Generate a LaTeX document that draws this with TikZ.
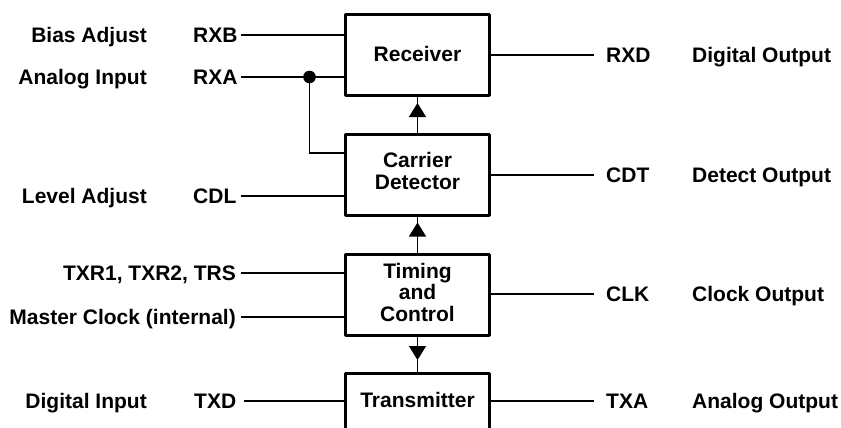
\documentclass[tikz,border=0pt]{standalone}
\usepackage{fontspec}
\setmainfont{Liberation Sans}
\usetikzlibrary{arrows.meta}
\begin{document}
\begin{tikzpicture}[x=1pt,y=-1pt,
  lbl/.style={font=\fontsize{21}{21.5}\selectfont\bfseries, inner sep=0pt, text height=15pt, text depth=0pt},
  blk/.style={lbl, draw, line width=3pt, line join=round, minimum width=144pt, minimum height=81pt, align=center},
  wire/.style={line width=1.1pt},
  arr/.style={wire, -{Triangle[length=14pt,width=17pt]}}]
\useasboundingbox (0,0) rectangle (841,428);
\clip (0,0) rectangle (841,428);

% blocks
\node[blk, text depth=2pt]  (rec) at (417.5,55)  {Receiver};
\node[blk, text height=36.5pt, text depth=8.5pt] (car) at (417.5,175) {Carrier\\Detector};
\node[blk, text height=58pt, text depth=6pt] (tim) at (417.5,295) {Timing\\and\\Control};
\node[blk, text depth=28pt] (tx)  at (417.5,414) {Transmitter};

% free wire ends
\coordinate (iRXB) at (241,35);
\coordinate (iRXA) at (241,77);
\coordinate (iCDL) at (241,196);
\coordinate (iTXR) at (241,273);
\coordinate (iMCK) at (241,317);
\coordinate (iTXD) at (244,401);
\coordinate (oRXD) at (594,55);
\coordinate (oCDT) at (594,175);
\coordinate (oCLK) at (594,294);
\coordinate (oTXA) at (594,401);
\coordinate (j) at (309.5,77);

% left labels
\node[lbl, anchor=east] (dBias) at (147,35)  {Bias Adjust};
\node[lbl, anchor=east] (dAna)  at (147,77)  {Analog Input};
\node[lbl, anchor=east] (dLev)  at (147,196) {Level Adjust};
\node[lbl, anchor=east] (dDig)  at (147,401) {Digital Input};
\node[lbl, anchor=west] (pRXB) at (193,35)  {RXB};
\node[lbl, anchor=west] (pRXA) at (193,77)  {RXA};
\node[lbl, anchor=west] (pCDL) at (193,196) {CDL};
\node[lbl, anchor=east] (pTXR) at (236,273) {TXR1, TXR2, TRS};
\node[lbl, anchor=east] (pMCK) at (236,317) {Master Clock (internal)};
\node[lbl, anchor=west] (pTXD) at (194,401) {TXD};

% right labels
\node[lbl, anchor=west] (pRXD) at (606,55)  {RXD};
\node[lbl, anchor=west] (pCDT) at (606,175) {CDT};
\node[lbl, anchor=west] (pCLK) at (606,294) {CLK};
\node[lbl, anchor=west] (pTXA) at (606,401) {TXA};
\node[lbl, anchor=west] (dRXD) at (692,55)  {Digital Output};
\node[lbl, anchor=west] (dCDT) at (692,175) {Detect Output};
\node[lbl, anchor=west] (dCLK) at (692,294) {Clock Output};
\node[lbl, anchor=west] (dTXA) at (692,401) {Analog Output};

% wires
\draw[wire] (iRXB) -- (iRXB -| rec.west);
\draw[wire] (iRXA) -- (iRXA -| rec.west);
\draw[wire] (j) |- ([yshift=22pt]car.west);
\fill (j) circle (6.3pt);
\draw[wire] (iCDL) -- (iCDL -| car.west);
\draw[wire] (iTXR) -- (iTXR -| tim.west);
\draw[wire] (iMCK) -- (iMCK -| tim.west);
\draw[wire] (iTXD) -- (iTXD -| tx.west);
\draw[wire] (rec.east) -- (oRXD);
\draw[wire] (car.east) -- (oCDT);
\draw[wire] (tim.east |- oCLK) -- (oCLK);
\draw[wire] (tx.east |- oTXA) -- (oTXA);

% vertical connectors
\draw[wire] (car.north) -- (rec.south);
\draw[arr]  (car.north) -- ([yshift=-6pt]rec.south);
\draw[wire] (tim.north) -- (car.south);
\draw[arr]  (tim.north) -- ([yshift=-5.5pt]car.south);
\draw[wire] (tim.south) -- (tx.north);
\draw[arr]  (tim.south) -- ([yshift=12pt]tx.north);
\end{tikzpicture}
\end{document}
